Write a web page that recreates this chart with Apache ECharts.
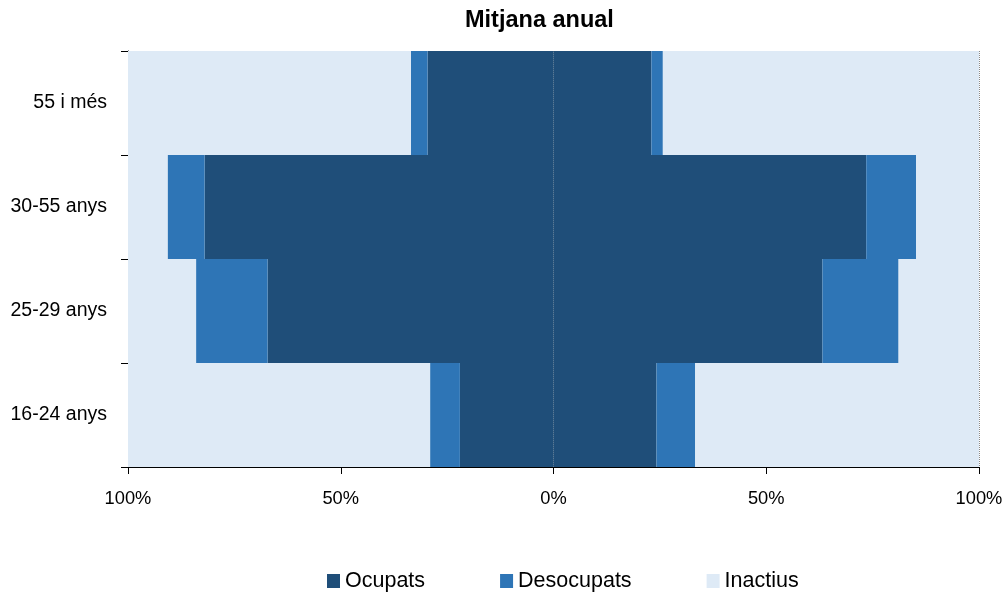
<!DOCTYPE html>
<html>
<head>
<meta charset="utf-8">
<script src="https://cdn.jsdelivr.net/npm/echarts@6/dist/echarts.min.js"></script>
<style>
  html, body { margin: 0; padding: 0; background: #fff; }
  #chart { width: 1006px; height: 594px; }
</style>
</head>
<body>
<div id="chart"></div>
<script>
var categories = ['16-24 anys', '25-29 anys', '30-55 anys', '55 i més'];
var xTicks = [-100, -50, 0, 50, 100];

// left half (shown as negative)
var ocupatsL    = [22.0, 67.2, 82.0, 29.6];
var desocupatsL = [7.0, 16.8, 8.7, 3.9];
var inactiusL   = [71.0, 16.0, 9.3, 66.5];

// right half
var ocupatsR    = [24.2, 63.2, 73.5, 23.0];
var desocupatsR = [9.1, 17.9, 11.7, 2.7];
var inactiusR   = [66.7, 18.9, 14.8, 74.3];

var colors = { 'Ocupats': '#1F4E79', 'Desocupats': '#2E75B6', 'Inactius': '#DEEAF6' };
var font = 'Liberation Sans, Arial, sans-serif';

function neg(arr) { return arr.map(function (v) { return -v; }); }

function bar(name, data) {
    return {
        name: name,
        type: 'bar',
        stack: 'total',
        barCategoryGap: '0%',
        data: data,
        itemStyle: { color: colors[name] },
        emphasis: { disabled: true }
    };
}

var chart = echarts.init(document.getElementById('chart'));

var option = {
    animation: false,
    textStyle: { fontFamily: font },
    title: {
        text: 'Mitjana anual',
        left: 460,
        top: 4,
        textStyle: { fontSize: 23.5, fontWeight: 'bold', color: '#000', fontFamily: font }
    },
    legend: {
        data: ['Ocupats', 'Desocupats', 'Inactius'],
        left: 322,
        top: 565,
        itemWidth: 13,
        itemHeight: 14,
        itemGap: 75,
        icon: 'rect',
        textStyle: { fontSize: 21.5, color: '#000' }
    },
    grid: { left: 128, right: 27, top: 51, bottom: 127, containLabel: false },
    xAxis: {
        type: 'value',
        min: xTicks[0],
        max: xTicks[xTicks.length - 1],
        interval: 50,
        axisLine: { show: true, lineStyle: { color: '#000', width: 1 } },
        axisTick: { show: true, length: 7, lineStyle: { color: '#000' } },
        axisLabel: {
            fontSize: 18.3,
            color: '#000',
            margin: 23,
            formatter: function (v) { return Math.abs(v) + '%'; }
        },
        splitLine: { show: true, lineStyle: { type: 'dotted', color: '#888' } }
    },
    yAxis: {
        type: 'category',
        data: categories,
        axisLine: { show: true, onZero: false, lineStyle: { color: '#000', width: 1 } },
        axisTick: { show: true, length: 7, lineStyle: { color: '#000' } },
        axisLabel: { fontSize: 19.5, color: '#000', margin: 21 }
    },
    series: [
        bar('Ocupats', neg(ocupatsL)),
        bar('Ocupats', ocupatsR),
        bar('Desocupats', neg(desocupatsL)),
        bar('Desocupats', desocupatsR),
        bar('Inactius', neg(inactiusL)),
        bar('Inactius', inactiusR)
    ]
};

chart.setOption(option);
window.onresize = chart.resize;
</script>
</body>
</html>
